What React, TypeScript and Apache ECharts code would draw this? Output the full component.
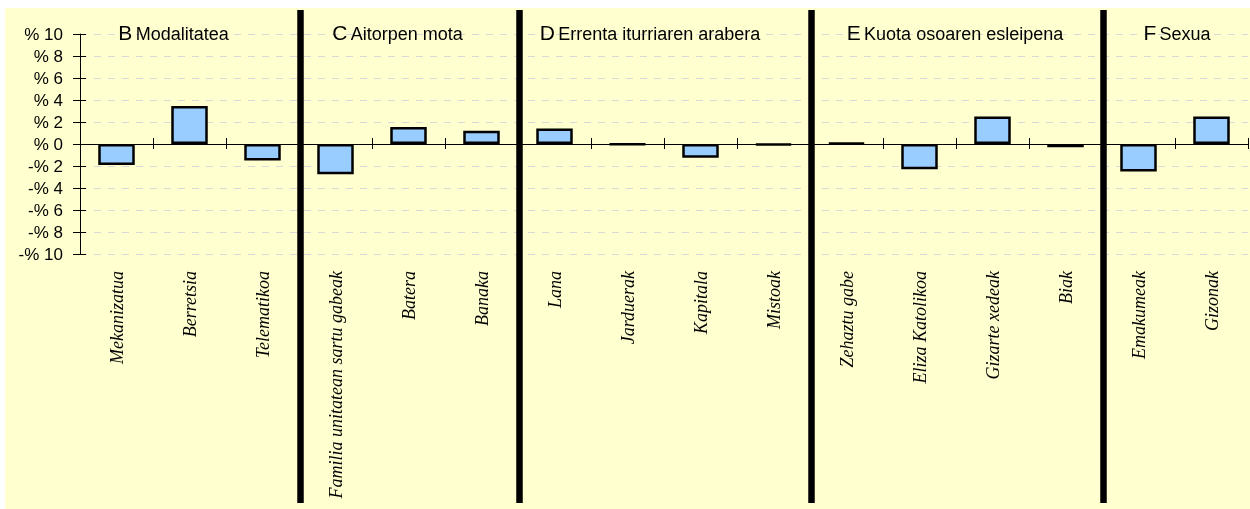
import React, { useEffect, useRef } from "react";
import * as echarts from "echarts";

// ---- data ----
const categories: string[] = [
  "Mekanizatua",
  "Berretsia",
  "Telematikoa",
  "Familia unitatean sartu gabeak",
  "Batera",
  "Banaka",
  "Lana",
  "Jarduerak",
  "Kapitala",
  "Mistoak",
  "Zehaztu gabe",
  "Eliza Katolikoa",
  "Gizarte xedeak",
  "Biak",
  "Emakumeak",
  "Gizonak",
];
const values: number[] = [
  -1.9, 3.45, -1.5, -2.75, 1.55, 1.2, 1.4, -0.05, -1.25, -0.1, 0.1, -2.3, 2.5,
  -0.3, -2.5, 2.5,
];
const groupLetters: string[] = ["B", "C", "D", "E", "F"];
const groupNames: string[] = [
  "Modalitatea",
  "Aitorpen mota",
  "Errenta iturriaren arabera",
  "Kuota osoaren esleipena",
  "Sexua",
];
const groupSizes: number[] = [3, 3, 4, 4, 2];
const yMin = -10;
const yMax = 10;
const yStep = 2;

// ---- layout / style ----
const titleOffsets = [-16, -11, -14, -1, 2];
const SANS = "'Liberation Sans', Arial, sans-serif";
const SERIF = "'Liberation Serif', 'Times New Roman', serif";
const BG = "#FFFFD0";

const yLabel = (v: number) => (v < 0 ? `-% ${-v}` : `% ${v}`);

export default function App() {
  const ref = useRef<HTMLDivElement>(null);

  useEffect(() => {
    if (!ref.current) return;
    const chart = echarts.init(ref.current, null, { renderer: "svg" });

    const option: any = {
      animation: false,
      backgroundColor: "transparent",
      grid: { left: 80, right: 2, top: 34, bottom: 255, containLabel: false },
      xAxis: [
        {
          type: "category",
          data: categories,
          position: "bottom",
          axisLine: { show: true, onZero: true, onZeroAxisIndex: 0, lineStyle: { color: "#000", width: 1 } },
          axisTick: { show: true, interval: 0, inside: false, length: 5, lineStyle: { color: "#000" } },
          axisLabel: { show: false, interval: 0 },
          splitLine: { show: false },
        },
        {
          type: "category",
          data: categories,
          position: "bottom",
          axisLine: { show: false, onZero: false },
          axisTick: { show: false },
          axisLabel: {
            show: true,
            interval: 0,
            rotate: 90,
            margin: 17,
            fontFamily: SERIF,
            fontStyle: "italic",
            fontSize: 18,
            color: "#000",
          },
          splitLine: { show: false },
        },
        {
          type: "category",
          data: categories,
          position: "bottom",
          axisLine: { show: false, onZero: true, onZeroAxisIndex: 1 },
          axisTick: { show: true, interval: 0, inside: true, length: 6, lineStyle: { color: "#000" } },
          axisLabel: { show: false, interval: 0 },
          splitLine: { show: false },
        },
      ],
      yAxis: [
        {
          type: "value",
          position: "left",
          min: yMin,
          max: yMax,
          interval: yStep,
          axisLine: { show: true, lineStyle: { color: "#000", width: 1 } },
          axisTick: { show: true, inside: false, length: 7, lineStyle: { color: "#000" } },
          axisLabel: {
            show: true,
            margin: 17,
            formatter: yLabel,
            fontFamily: SANS,
            fontSize: 17,
            color: "#000",
          },
          splitLine: {
            show: true,
            lineStyle: { color: "#D9D9D9", type: [7, 7], width: 1 },
          },
        },
        {
          type: "value",
          position: "left",
          min: yMin,
          max: yMax,
          interval: yStep,
          axisLine: { show: false },
          axisTick: { show: true, inside: true, length: 6, lineStyle: { color: "#000" } },
          axisLabel: { show: false },
          splitLine: { show: false },
        },
      ],
      series: [
        {
          type: "bar",
          xAxisIndex: 0,
          yAxisIndex: 0,
          data: values,
          barWidth: "50%",
          itemStyle: { color: "#99CCFF", borderColor: "#000", borderWidth: 2.5 },
          z: 3,
        },
      ],
    };

    chart.setOption(option);

    // separators and titles positioned through the axes
    const cx = categories.map((c) => chart.convertToPixel({ xAxisIndex: 0 }, c) as number);
    const step = cx[1] - cx[0];
    const yTop = chart.convertToPixel({ yAxisIndex: 0 }, yMax) as number;

    const graphics: any[] = [
      {
        type: "rect",
        z: -10,
        silent: true,
        shape: { x: 5, y: 8, width: 1250, height: 510 },
        style: { fill: BG },
      },
    ];

    let start = 0;
    groupSizes.forEach((size, g) => {
      const left = cx[start] - step / 2;
      const right = cx[start + size - 1] + step / 2;
      const center = (left + right) / 2 + titleOffsets[g];
      graphics.push({
        type: "text",
        z: 10,
        x: center,
        y: yTop + 9,
        style: {
          text: `{a|${groupLetters[g]}} {b|${groupNames[g]}}`,
          align: "center",
          verticalAlign: "bottom",
          rich: {
            a: { fontFamily: SANS, fontSize: 21, lineHeight: 21, verticalAlign: "bottom", fill: "#000" },
            b: { fontFamily: SANS, fontSize: 18, lineHeight: 18, verticalAlign: "bottom", fill: "#000" },
          },
        },
      });
      start += size;
      if (g < groupSizes.length - 1) {
        const bx = cx[start] - step / 2 + 1.5;
        graphics.push({
          type: "line",
          z: 20,
          silent: true,
          shape: { x1: bx, y1: 10, x2: bx, y2: 503 },
          style: { stroke: "#000", lineWidth: 6.5 },
        });
      }
    });

    chart.setOption({ graphic: graphics });

    return () => chart.dispose();
  }, []);

  return (
    <div
      ref={ref}
      style={{ position: "fixed", left: 0, top: 0, width: 1250, height: 509 }}
    />
  );
}
